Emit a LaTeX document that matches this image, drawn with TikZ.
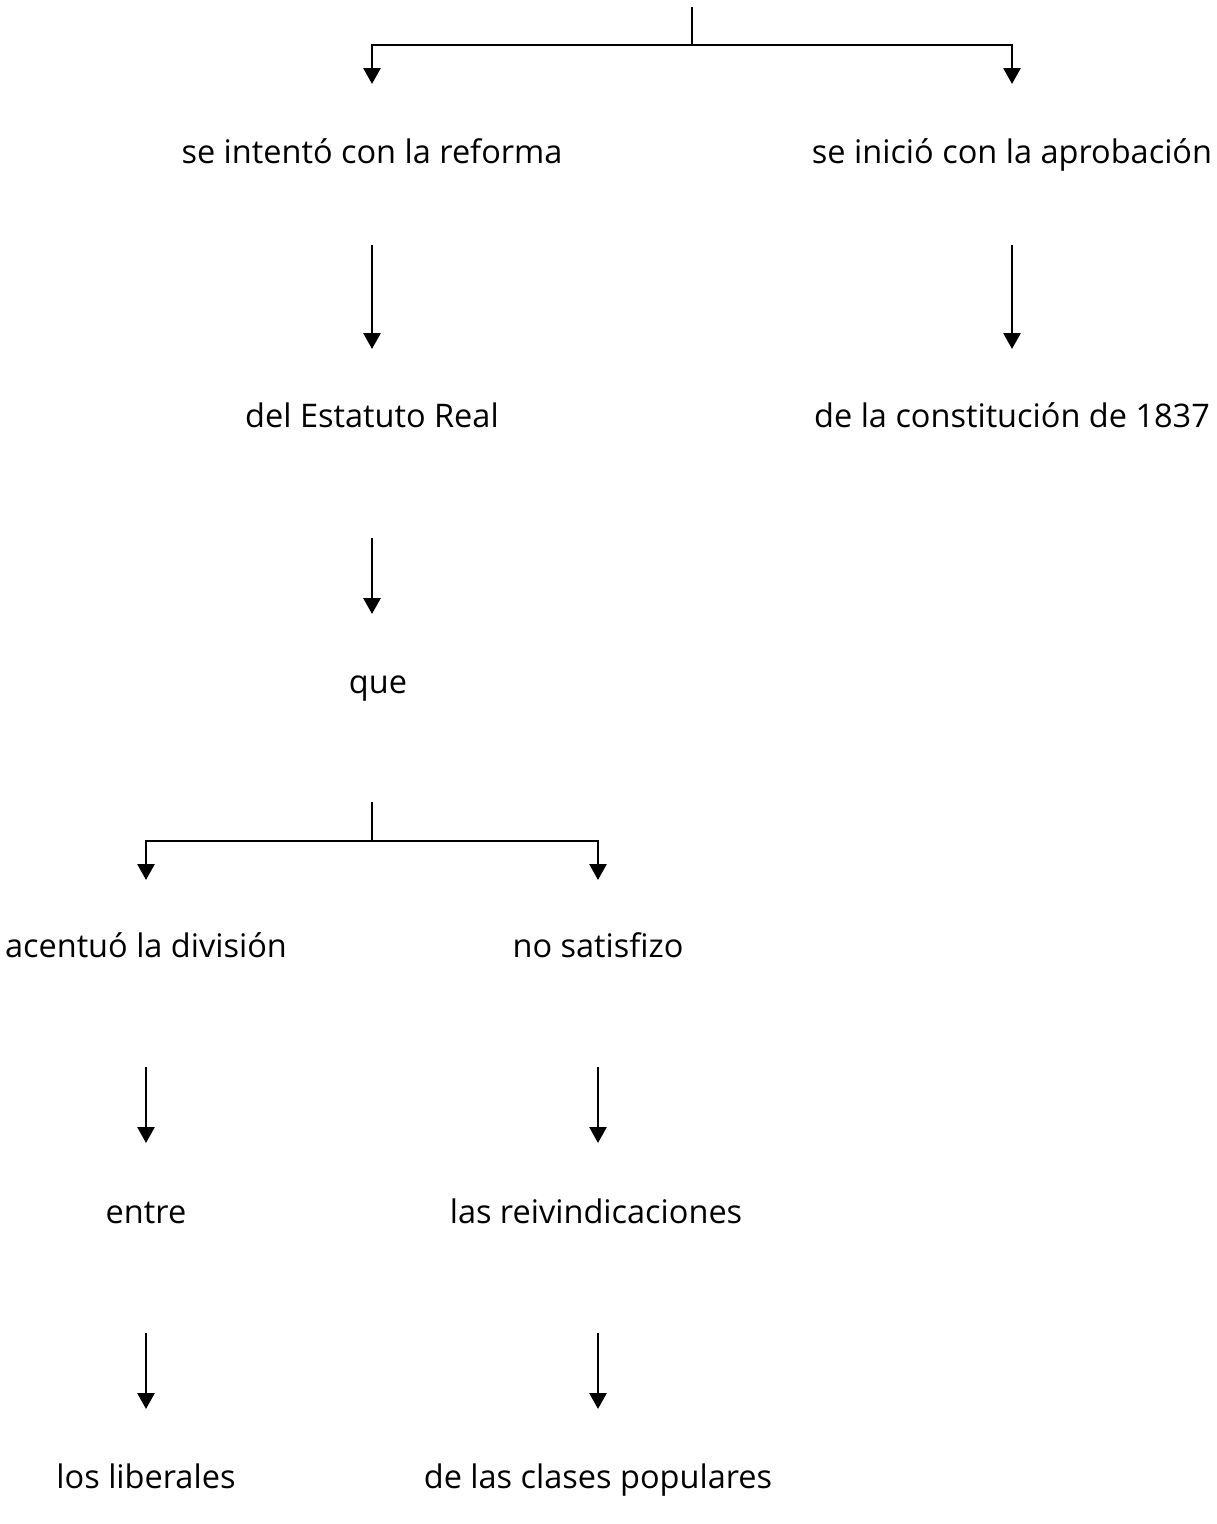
\documentclass[tikz,border=0pt]{standalone}
\usepackage{fontspec}
\setmainfont{Open Sans}
\usetikzlibrary{arrows.meta}
\begin{document}
\begin{tikzpicture}[x=1pt,y=-1pt,
  lbl/.style={inner sep=0pt,anchor=base,font=\fontsize{32.5}{38}\selectfont},
  conn/.style={line width=2.8pt},
  arr/.style={line width=2.8pt,-{Triangle[width=17pt,length=16pt]}}]
\useasboundingbox (0,0) rectangle (1216,1524);
% top branch
\coordinate (root) at (692,7);
\coordinate (j1) at (692,45);
\coordinate (j1l) at (372,45);
\coordinate (j1r) at (1012,45);
\coordinate (t1l) at (372,84);
\coordinate (t1r) at (1012,84);
\node[lbl] (a1) at (372,163) {se intentó con la reforma};
\node[lbl] (b1) at (1012,163) {se inició con la aprobación};
\node[lbl] (a2) at (372,427) {del Estatuto Real};
\node[lbl] (b2) at (1012,427) {de la constitución de 1837};
\node[lbl] (a3) at (378,693) {que};
\coordinate (s1a) at (372,245); \coordinate (e1a) at (372,349);
\coordinate (s1b) at (1012,245); \coordinate (e1b) at (1012,349);
\coordinate (s2a) at (372,538); \coordinate (e2a) at (372,614);
\draw[conn] (root) -- (j1);
\draw[arr] (j1) -- (j1l) -- (t1l);
\draw[arr] (j1) -- (j1r) -- (t1r);
\draw[arr] (s1a) -- (e1a);
\draw[arr] (s1b) -- (e1b);
\draw[arr] (s2a) -- (e2a);
% second branch
\coordinate (r2) at (372,802);
\coordinate (j2) at (372,841);
\coordinate (j2l) at (146,841);
\coordinate (j2r) at (598,841);
\coordinate (t2l) at (146,880);
\coordinate (t2r) at (598,880);
\draw[conn] (r2) -- (j2);
\draw[arr] (j2) -- (j2l) -- (t2l);
\draw[arr] (j2) -- (j2r) -- (t2r);
\node[lbl] (c1) at (146,957) {acentuó la división};
\node[lbl] (d1) at (598,957) {no satisfizo};
\node[lbl] (c2) at (146,1223) {entre};
\node[lbl] (d2) at (596,1223) {las reivindicaciones};
\node[lbl] (c3) at (146,1488) {los liberales};
\node[lbl] (d3) at (598,1488) {de las clases populares};
\coordinate (s3a) at (146,1067); \coordinate (e3a) at (146,1143);
\coordinate (s3b) at (598,1067); \coordinate (e3b) at (598,1143);
\coordinate (s4a) at (146,1333); \coordinate (e4a) at (146,1409);
\coordinate (s4b) at (598,1333); \coordinate (e4b) at (598,1409);
\draw[arr] (s3a) -- (e3a);
\draw[arr] (s3b) -- (e3b);
\draw[arr] (s4a) -- (e4a);
\draw[arr] (s4b) -- (e4b);
\end{tikzpicture}
\end{document}
